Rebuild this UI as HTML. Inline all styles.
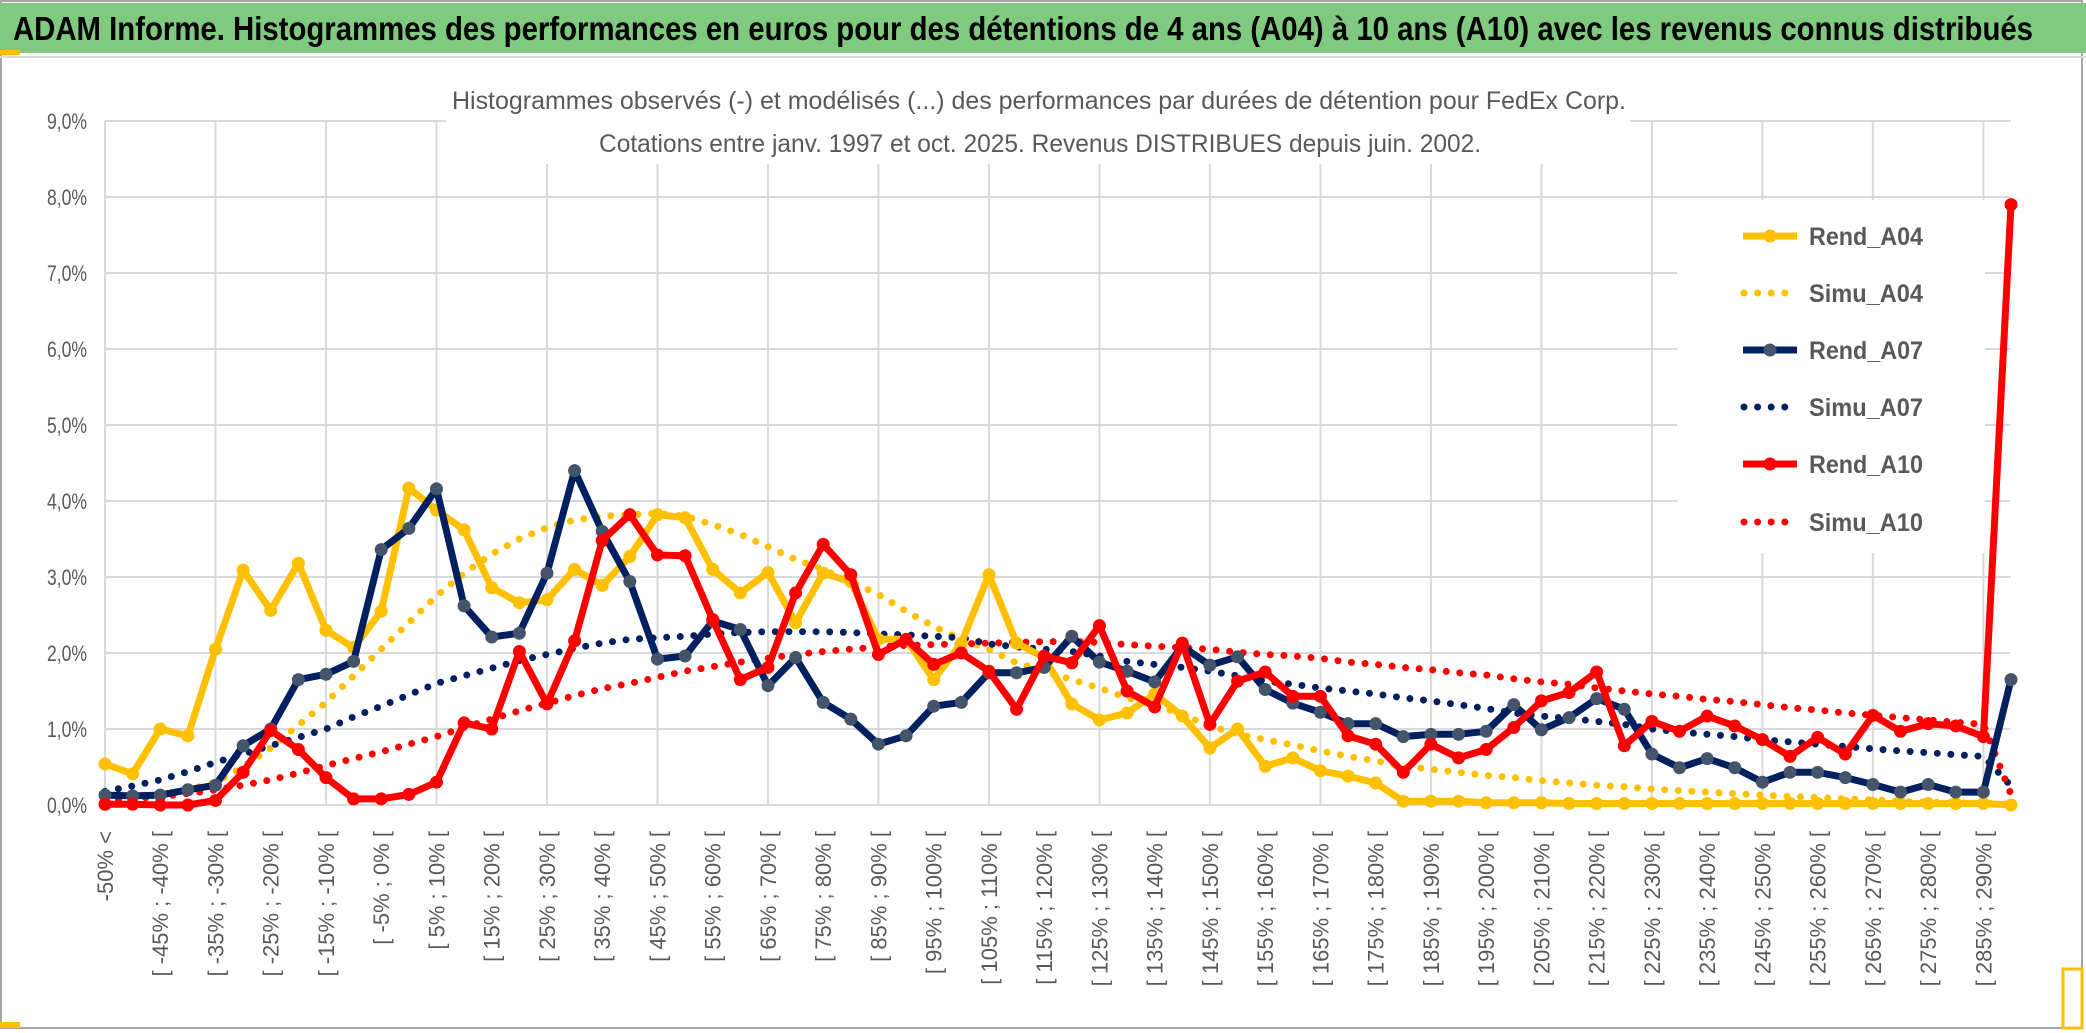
<!DOCTYPE html>
<html><head><meta charset="utf-8"><style>
html,body{margin:0;padding:0;background:#fff;}
svg{display:block;font-family:"Liberation Sans",sans-serif;}
</style></head><body>
<svg id="chart" width="2086" height="1033" viewBox="0 0 2086 1033" xmlns="http://www.w3.org/2000/svg">
  <rect x="0" y="0" width="2086" height="1033" fill="#fff"/>
  <rect x="1" y="1" width="2081" height="1027" fill="none" stroke="#A6A6A6" stroke-width="2"/>
  <rect x="0" y="3" width="2086" height="50" fill="#7FCA7F"/>
  <rect x="0" y="50" width="20" height="5" fill="#FFC000"/>
  <rect x="0" y="56" width="2086" height="2" fill="#D9D9D9"/>
  <rect x="0" y="1022" width="20" height="6" fill="#FFC000"/>
  <rect x="2063" y="969" width="19" height="59" fill="none" stroke="#FFC000" stroke-width="3"/>
  <text x="13" y="40" font-size="33" font-weight="bold" fill="#000" textLength="2020" lengthAdjust="spacingAndGlyphs">ADAM Informe. Histogrammes des performances en euros pour des détentions de 4 ans (A04) à 10 ans (A10) avec les revenus connus distribués</text>
  <g id="grid"></g>
  <rect x="446" y="80" width="1184" height="84" fill="#fff"/>
  <rect x="1677" y="200" width="308" height="353" fill="#fff"/>
  <text x="452" y="109" font-size="25" fill="#595959" textLength="1174" lengthAdjust="spacingAndGlyphs">Histogrammes observés (-) et modélisés (...) des performances par durées de détention pour FedEx Corp.</text>
  <text x="599" y="152" font-size="25" fill="#595959" textLength="882" lengthAdjust="spacingAndGlyphs">Cotations entre janv. 1997 et oct. 2025. Revenus DISTRIBUES depuis juin. 2002.</text>
  <g id="yaxis"></g>
  <g id="xaxis"></g>
  <g id="series"></g>
  <g id="legend"></g>
</svg>
<script>
const yTicks = [0,1,2,3,4,5,6,7,8,9];
const rendA04 = [0.54,0.41,1.0,0.91,2.05,3.09,2.56,3.18,2.30,2.07,2.55,4.17,3.88,3.62,2.86,2.66,2.70,3.10,2.89,3.27,3.82,3.78,3.10,2.79,3.06,2.40,3.05,2.94,2.18,2.18,1.65,2.13,3.03,2.13,1.94,1.33,1.12,1.21,1.46,1.17,0.75,1.0,0.51,0.62,0.45,0.38,0.29,0.05,0.05,0.05,0.03,0.03,0.03,0.02,0.02,0.02,0.02,0.02,0.02,0.02,0.02,0.02,0.02,0.02,0.02,0.02,0.02,0.02,0.02,0.0];
const simuA04 = [0.05,0.08,0.12,0.2,0.3,0.5,0.75,1.05,1.35,1.7,2.05,2.4,2.75,3.05,3.3,3.5,3.65,3.75,3.8,3.82,3.84,3.8,3.69,3.56,3.4,3.23,3.1,2.94,2.77,2.55,2.35,2.18,2.05,1.87,1.76,1.65,1.54,1.41,1.32,1.19,1.04,0.93,0.86,0.79,0.71,0.64,0.58,0.51,0.47,0.43,0.39,0.36,0.32,0.29,0.26,0.24,0.21,0.19,0.17,0.15,0.13,0.11,0.10,0.08,0.07,0.05,0.04,0.03,0.02,0.01];
const rendA07 = [0.13,0.12,0.13,0.2,0.26,0.78,1.0,1.65,1.72,1.89,3.36,3.64,4.16,2.62,2.21,2.26,3.05,4.40,3.6,2.94,1.92,1.96,2.42,2.31,1.57,1.94,1.35,1.13,0.8,0.91,1.30,1.35,1.74,1.74,1.81,2.22,1.88,1.76,1.62,2.09,1.84,1.95,1.52,1.34,1.22,1.07,1.07,0.9,0.93,0.93,0.97,1.32,0.99,1.15,1.4,1.26,0.67,0.49,0.61,0.49,0.3,0.43,0.43,0.36,0.27,0.17,0.27,0.17,0.17,1.65];
const simuA07 = [0.18,0.25,0.33,0.44,0.56,0.67,0.78,0.89,1.0,1.16,1.3,1.45,1.6,1.7,1.8,1.9,1.98,2.06,2.13,2.18,2.2,2.22,2.25,2.27,2.28,2.28,2.28,2.27,2.25,2.24,2.22,2.2,2.12,2.08,2.05,2.02,1.96,1.89,1.85,1.81,1.76,1.7,1.63,1.59,1.54,1.5,1.46,1.41,1.37,1.32,1.27,1.21,1.17,1.14,1.1,1.06,1.0,0.96,0.93,0.9,0.86,0.83,0.8,0.77,0.74,0.71,0.69,0.66,0.64,0.25];
const rendA10 = [0.01,0.01,0,0,0.06,0.43,0.98,0.73,0.36,0.08,0.08,0.14,0.3,1.08,1.0,2.02,1.33,2.16,3.48,3.82,3.29,3.28,2.44,1.65,1.81,2.79,3.43,3.03,1.98,2.18,1.85,2.0,1.76,1.26,1.96,1.87,2.36,1.5,1.29,2.13,1.06,1.63,1.75,1.43,1.43,0.91,0.8,0.43,0.8,0.62,0.73,1.02,1.37,1.48,1.75,0.78,1.1,0.97,1.17,1.04,0.86,0.64,0.89,0.67,1.18,0.97,1.07,1.04,0.9,7.9];
const simuA10 = [0.05,0.08,0.11,0.15,0.2,0.26,0.33,0.42,0.52,0.61,0.7,0.8,0.9,1.02,1.13,1.24,1.34,1.44,1.53,1.6,1.68,1.76,1.82,1.88,1.93,1.98,2.02,2.05,2.08,2.1,2.11,2.12,2.13,2.14,2.15,2.15,2.14,2.11,2.09,2.07,2.05,2.01,1.98,1.96,1.93,1.88,1.85,1.81,1.78,1.74,1.71,1.66,1.62,1.59,1.54,1.5,1.46,1.43,1.39,1.36,1.32,1.28,1.25,1.21,1.18,1.15,1.12,1.09,1.06,0.14];
const categories = ["-50% <"];
for (let k = 1; k < rendA04.length; k++) { const s = -50 + (k - 1) * 5; categories.push("[ " + s + "% ; " + (s + 5) + "% ["); }
const legendNames = ["Rend_A04","Simu_A04","Rend_A07","Simu_A07","Rend_A10","Simu_A10"];

const NS = "http://www.w3.org/2000/svg";
const X0 = 105, X1 = 2011, Y0 = 805, YT = 121, YMAX = 9;
const n = categories.length;
function xPos(i){ return X0 + i * (X1 - X0) / (n - 1); }
function yPos(v){ return Y0 - v * (Y0 - YT) / YMAX; }
function mk(tag, attrs, parent){ const e = document.createElementNS(NS, tag); for (const k in attrs) e.setAttribute(k, attrs[k]); parent.appendChild(e); return e; }

const grid = document.getElementById('grid');
yTicks.forEach(t => {
  const l = mk('line', {x1: X0, x2: X1, y1: yPos(t), y2: yPos(t), stroke: '#D9D9D9', 'stroke-width': 2}, grid);
  
  
});
for (let i = 0; i < n; i += 4) {
  const l = mk('line', {x1: xPos(i), x2: xPos(i), y1: YT, y2: Y0, stroke: '#D9D9D9', 'stroke-width': 2}, grid);
  
  
}
const yaxis = document.getElementById('yaxis');
yTicks.forEach(t => {
  const tx = mk('text', {x: 87, y: yPos(t) + 8, 'text-anchor': 'end', 'font-size': 22, fill: '#595959', textLength: 40, lengthAdjust: 'spacingAndGlyphs'}, yaxis);
  tx.textContent = t.toFixed(1).replace('.', ',') + '%';
  
  
});
const xaxis = document.getElementById('xaxis');
for (let i = 0; i < n; i += 2) {
  const x = xPos(i);
  const tx = mk('text', {x: 0, y: 0, transform: 'translate(' + (x + 8) + ',831) rotate(-90)', 'text-anchor': 'end', 'font-size': 22, fill: '#595959'}, xaxis);
  tx.textContent = categories[i];
  
  
}
const series = document.getElementById('series');
function pts(arr){ return arr.map((v, i) => xPos(i).toFixed(1) + ',' + yPos(v).toFixed(1)).join(' '); }
function dotted(arr, color, name){
  const p = mk('polyline', {points: pts(arr), fill: 'none', stroke: color, 'stroke-width': 7, 'stroke-linecap': 'round', 'stroke-dasharray': '0 13.6'}, series);
  
  
}
function solid(arr, color, mcol, name){
  const g = mk('g', {}, series);
  
  
  mk('polyline', {points: pts(arr), fill: 'none', stroke: color, 'stroke-width': 7, 'stroke-linejoin': 'round'}, g);
  arr.forEach((v, i) => {
    const c = mk('circle', {cx: xPos(i), cy: yPos(v), r: 6.5, fill: mcol}, g);
    
    
  });
}
dotted(simuA04, '#FFC000', 'simu-a04-line');
dotted(simuA07, '#002060', 'simu-a07-line');
dotted(simuA10, '#FF0000', 'simu-a10-line');
solid(rendA04, '#FFC000', '#FFC000', 'rend-a04-line');
solid(rendA07, '#002060', '#44546A', 'rend-a07-line');
solid(rendA10, '#FF0000', '#FF0000', 'rend-a10-line');

const legend = document.getElementById('legend');
const legColors = ['#FFC000','#FFC000','#002060','#002060','#FF0000','#FF0000'];
const legY = [236,293,350,407,464,522];
legendNames.forEach((nm, k) => {
  const g = mk('g', {}, legend);
  
  
  const y = legY[k];
  if (k % 2 === 0) {
    mk('line', {x1: 1743, x2: 1797, y1: y, y2: y, stroke: legColors[k], 'stroke-width': 7}, g);
    mk('circle', {cx: 1770, cy: y, r: 6.5, fill: k === 2 ? '#44546A' : legColors[k]}, g);
  } else {
    mk('line', {x1: 1744, x2: 1798, y1: y, y2: y, stroke: legColors[k], 'stroke-width': 7, 'stroke-linecap': 'round', 'stroke-dasharray': '0 13.6'}, g);
  }
  const t = mk('text', {x: 1809, y: y + 9, 'font-size': 25, 'font-weight': 'bold', fill: '#595959', textLength: 114, lengthAdjust: 'spacingAndGlyphs'}, g);
  t.textContent = nm;
});
</script>
</body></html>
